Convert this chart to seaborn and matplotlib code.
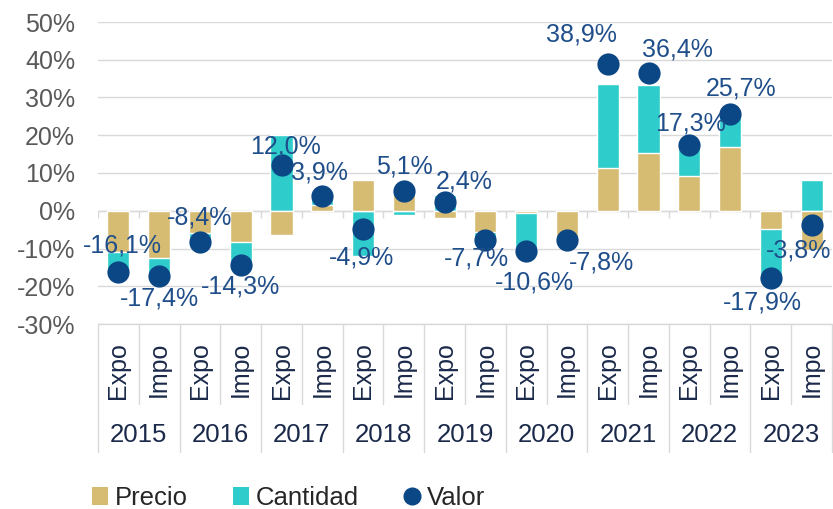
import numpy as np
import pandas as pd
import seaborn as sns
import matplotlib.pyplot as plt
from matplotlib.patches import Patch
from matplotlib.lines import Line2D
import matplotlib.transforms as mtransforms

# data (% change)
years = ["2015", "2016", "2017", "2018", "2019", "2020", "2021", "2022", "2023"]
flows = ["Expo", "Impo"]
precio = [-11.0, -12.5, -5.8, -8.2, -6.5, 1.5, 8.1, 6.2, -2.0,
          -5.5, -0.6, -7.2, 11.2, 15.3, 9.3, 16.8, -4.8, -10.5]
cantidad = [-5.1, -5.5, -3.2, -6.5, 20.0, 2.4, -12.1, -1.1, 4.3,
            -3.0, -10.0, -1.5, 22.4, 18.0, 8.6, 8.3, -13.0, 8.2]
valor = [-16.1, -17.4, -8.4, -14.3, 12.0, 3.9, -4.9, 5.1, 2.4,
         -7.7, -10.6, -7.8, 38.9, 36.4, 17.3, 25.7, -17.9, -3.8]

# label offsets (pixels) relative to each dot
label_dx = [4, 0, 0, 0, 4, -3, -2, 1, 20, -9, 8, 35, -26, 29, 1, 11, -8, -13]
label_dy = [-26, 22, -25, 22, -19, -24, 28, -25, -20, 19, 32, 22, -29, -24, -22, -25, 24, 25]

cats = [y + " " + f for y in years for f in flows]
df = pd.DataFrame({"cat": cats, "precio": precio, "cantidad": cantidad, "valor": valor})
# Excel-style stacking: Cantidad sits on top of Precio when both have the same sign
same = np.sign(df["precio"]) == np.sign(df["cantidad"])
df["teal_h"] = np.where(same, df["precio"] + df["cantidad"], df["cantidad"])

TAN = "#D6BB73"
TEAL = "#2ECDCB"
NAVY = "#0B4685"
LABEL = "#1F4E8A"
GRID = "#D9D9D9"
TICK = "#595959"
CAT = "#1B2A4A"

sns.set_theme(style="white")
plt.rcParams["font.family"] = ["Liberation Sans", "DejaVu Sans"]

fig = plt.figure(figsize=(8.33, 5.09), dpi=100)
ax = fig.add_axes([98 / 833, 1 - 324 / 509, 734 / 833, 302 / 509])

sns.barplot(data=df, x="cat", y="teal_h", order=cats, color=TEAL, saturation=1,
            width=0.54, errorbar=None, ax=ax, zorder=2)
sns.barplot(data=df, x="cat", y="precio", order=cats, color=TAN, saturation=1,
            width=0.54, errorbar=None, ax=ax, zorder=2)
sns.stripplot(data=df, x="cat", y="valor", order=cats, jitter=False, size=16,
              color=NAVY, linewidth=0, ax=ax, zorder=4)

ax.set_xlim(-0.5, len(cats) - 0.5)
ax.set_ylim(-30, 50)
ax.set_yticks(range(-30, 51, 10))
ax.set_yticklabels([f"{t}%" for t in range(-30, 51, 10)], fontsize=18, color=TICK)
ax.tick_params(axis="y", length=0, pad=16.5)
ax.yaxis.grid(True, color=GRID, lw=1)
ax.set_axisbelow(True)
for s in ax.spines.values():
    s.set_visible(False)
ax.set_xlabel("")
ax.set_ylabel("")

# zero line with category ticks
ax.axhline(0, color=GRID, lw=1, zorder=1)
ax.vlines(np.arange(-0.5, len(cats)), 0, -1.85, color=GRID, lw=1, zorder=1)

# data labels
for i, v in enumerate(valor):
    txt = f"{v:.1f}%".replace(".", ",")
    ax.annotate(txt, (i, v), xytext=(label_dx[i] * 0.72, -label_dy[i] * 0.72),
                textcoords="offset points", ha="center", va="center",
                fontsize=18, color=LABEL, zorder=5)

# two-level category axis
ax.set_xticks(range(len(cats)))
ax.set_xticklabels([f for y in years for f in flows], rotation=90, fontsize=18, color=CAT)
ax.tick_params(axis="x", length=0, pad=13)
trans = mtransforms.blended_transform_factory(ax.transData, ax.transAxes)
ax.plot([-0.5, len(cats) - 0.5], [0, 0], transform=trans, color=GRID, lw=1, clip_on=False)
for j, y in enumerate(years):
    ax.text(2 * j + 0.5, (324 - 435) / 302, y, transform=trans, ha="center", va="center",
            fontsize=18.5, color=CAT)
    ax.plot([2 * j + 0.5] * 2, [0, (324 - 404) / 302], transform=trans, color=GRID,
            lw=1, clip_on=False)
for x in np.arange(-0.5, len(cats), 2):
    ax.plot([x, x], [0, (324 - 452) / 302], transform=trans, color=GRID, lw=1, clip_on=False)

handles = [Patch(facecolor=TAN, edgecolor="none", label="Precio"),
           Patch(facecolor=TEAL, edgecolor="none", label="Cantidad"),
           Line2D([], [], marker="o", ls="none", color=NAVY, markersize=12, label="Valor")]
fig.legend(handles=handles, loc="center left", bbox_to_anchor=(0.11, 1 - 498 / 509),
           ncol=3, frameon=False, fontsize=18.5, handlelength=0.65, handleheight=0.65,
           handletextpad=0.25, columnspacing=1.75, borderpad=0, borderaxespad=0)

fig.savefig("out.png", dpi=100)
